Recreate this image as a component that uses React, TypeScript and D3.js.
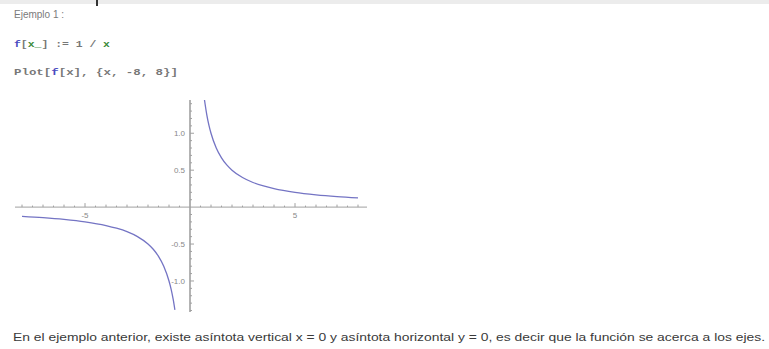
import React from "react";
import * as d3 from "d3";

const posX = [0.69, 0.8, 0.9, 1, 1.25, 1.5, 1.75, 2, 2.5, 3, 3.5, 4, 5, 6, 7, 8];
const posY = [1.45, 1.25, 1.11, 1.0, 0.8, 0.667, 0.571, 0.5, 0.4, 0.333, 0.286, 0.25, 0.2, 0.167, 0.143, 0.125];
const negX = [-8, -7, -6, -5, -4, -3.5, -3, -2.5, -2, -1.75, -1.5, -1.25, -1, -0.9, -0.8, -0.72];
const negY = [-0.125, -0.143, -0.167, -0.2, -0.25, -0.286, -0.333, -0.4, -0.5, -0.571, -0.667, -0.8, -1.0, -1.11, -1.25, -1.39];
const xTickLabels = [-5, 5];
const yTickLabels = [1.0, 0.5, -0.5, -1.0];

const W = 769, H = 349;

export default function App() {
  const x = d3.scaleLinear().domain([-8, 8]).range([22, 358]);
  const y = d3.scaleLinear().domain([-1.42, 1.45]).range([312, 100]);
  const line = d3.line<[number, number]>().x(d => x(d[0])).y(d => y(d[1])).curve(d3.curveMonotoneX);
  const pos = posX.map((v, i) => [v, posY[i]] as [number, number]);
  const neg = negX.map((v, i) => [v, negY[i]] as [number, number]);
  const x0 = x(0), y0 = y(0);
  const xMinor = d3.range(-16, 17, 1).map(v => v / 2).filter(v => v !== 0);
  const yMinor = d3.range(-14, 15, 1).map(v => v / 10).filter(v => v !== 0);
  const axisCol = "#a0a0a0";
  return (
    <svg width={W} height={H} style={{ position: "absolute", left: 0, top: 0, background: "#fff" }}>
      <rect x={0} y={0} width={W} height={4} fill="#ececec" />
      <rect x={96} y={0} width={2} height={6} fill="#333" />
      <text x={14} y={18} fontFamily="Arial, Liberation Sans, sans-serif" fontSize={10} fill="#7a7a7a">Ejemplo 1 :</text>
      <text x={14} y={47} fontFamily="Liberation Mono, monospace" fontSize={9} fontWeight="bold" textLength={96} lengthAdjust="spacingAndGlyphs">
        <tspan fill="#4a4ac0">f</tspan><tspan fill="#777">[</tspan><tspan fill="#3a8a3a">x_</tspan><tspan fill="#777">] := 1 / </tspan><tspan fill="#3a8a3a">x</tspan>
      </text>
      <text x={14} y={75} fontFamily="Liberation Mono, monospace" fontSize={9} fontWeight="bold" fill="#777" textLength={164} lengthAdjust="spacingAndGlyphs">
        Plot[<tspan fill="#4a4ac0">f</tspan>[x], {"{"}x, -8, 8{"}"}]
      </text>
      <line x1={15} x2={367} y1={y0} y2={y0} stroke={axisCol} strokeWidth={1} />
      <line x1={x0} x2={x0} y1={100} y2={312} stroke={axisCol} strokeWidth={1.6} />
      {xMinor.map(v => (
        <line key={"xm" + v} x1={x(v)} x2={x(v)} y1={y0 - (Math.abs(v) === 5 ? 4 : Number.isInteger(v) ? 2.5 : 1.5)} y2={y0} stroke={axisCol} />
      ))}
      {yMinor.map(v => (
        <line key={"ym" + v} x1={x0} x2={x0 + (Math.abs(v) === 0.5 || Math.abs(v) === 1 ? 4 : 2)} y1={y(v)} y2={y(v)} stroke={axisCol} />
      ))}
      {xTickLabels.map(v => (
        <text key={"xl" + v} x={x(v)} y={y0 + 11} textAnchor="middle" fontFamily="Arial, sans-serif" fontSize={8} fill="#888">{v}</text>
      ))}
      {yTickLabels.map(v => (
        <text key={"yl" + v} x={x0 - 5} y={y(v) + 3} textAnchor="end" fontFamily="Arial, sans-serif" fontSize={8} fill="#888">{v.toFixed(1)}</text>
      ))}
      <path d={line(pos) || ""} fill="none" stroke="#7474c4" strokeWidth={1.3} />
      <path d={line(neg) || ""} fill="none" stroke="#7474c4" strokeWidth={1.3} />
      <text x={13} y={341} fontFamily="Arial, Liberation Sans, sans-serif" fontSize={11} fill="#3a3a3a" textLength={752} lengthAdjust="spacingAndGlyphs">
        En el ejemplo anterior, existe asíntota vertical x = 0 y asíntota horizontal y = 0, es decir que la función se acerca a los ejes.
      </text>
    </svg>
  );
}
